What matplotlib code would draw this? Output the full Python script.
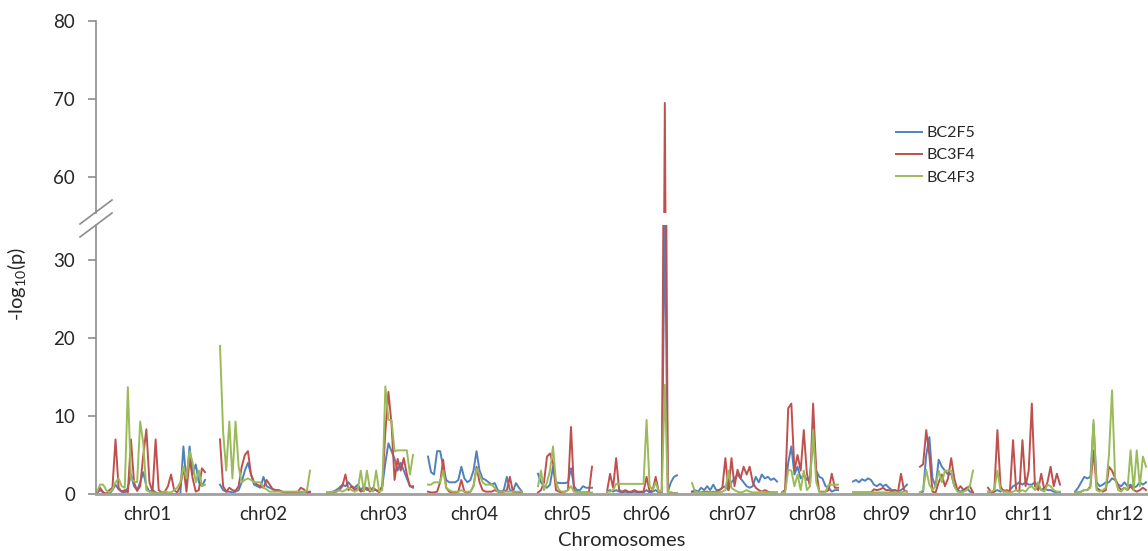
import numpy as np
import matplotlib
matplotlib.use("Agg")
import matplotlib.pyplot as plt
from matplotlib.lines import Line2D

# chromosomes
chrom_names = ["chr01", "chr02", "chr03", "chr04", "chr05", "chr06",
               "chr07", "chr08", "chr09", "chr10", "chr11", "chr12"]
chrom_start = [1, 124, 231, 332, 442, 511, 596, 686, 757, 824, 892, 979]
chrom_end = [109, 214, 317, 426, 496, 581, 681, 742, 811, 877, 964, 1050]
label_pos = [51, 167, 287, 378, 471, 550, 636, 716, 790, 856, 932, 1023]

# -log10(p) per chromosome
bc2f5 = [
    [0.3, 0.5, 0.2, 0, 0, 0.5, 1.2, 0.6, 0.3, 0.2, 0.8, 2.5, 1.0, 0.5, 1.5, 2.8, 1.0, 0.3,
     0.5, 0.2, 0, 0, 0.2, 0.1, 0, 0, 0, 0, 6.1, 1.5, 6.1, 2.5, 3.8, 1.5, 1.0, 1.8],
    [1.2, 0.5, 0.3, 0.3, 0.2, 0.3, 0.5, 1.5, 3.0, 4.0, 2.5, 1.2, 1.0, 0.8, 2.2, 1.0, 0.8, 0.6,
     0.5, 0.4, 0.3, 0.2, 0.2, 0.2, 0.2, 0.2, 0.2, 0.3, 0.3, 0.3],
    [0.2, 0.2, 0.3, 0.5, 0.8, 1.2, 1.0, 1.5, 1.0, 0.8, 1.2, 0.5, 1.0, 0.5, 0.8, 0.5, 0.5, 0.3,
     1.0, 4.0, 6.5, 5.5, 4.5, 3.0, 4.0, 3.0, 2.0, 1.0, 0.8],
    [4.8, 2.8, 2.5, 5.5, 5.5, 3.5, 1.8, 1.5, 1.5, 1.5, 1.8, 3.5, 2.0, 1.5, 1.8, 3.0, 5.5, 3.0,
     2.0, 1.8, 1.5, 1.2, 1.4, 0.5, 0.3, 0.5, 2.2, 0.5, 0.3, 1.4, 0.8, 0.3],
    [2.6, 1.5, 1.0, 0.8, 1.2, 3.5, 1.5, 1.4, 1.4, 1.4, 1.5, 3.3, 1.0, 0.5, 0.5, 1.0, 0.8, 0.8, 0.8],
    [0.3, 0.5, 0.3, 0.5, 0.3, 0.2, 0.3, 0.2, 0.2, 0.3, 0.2, 0.2, 0.2, 0.5, 0.2, 0.3, 0.5, 0.2,
     0.2, 36.0, 0.3, 1.5, 2.2, 2.4],
    [0.3, 0.5, 0.3, 0.8, 0.5, 1.0, 0.5, 1.2, 0.5, 0.5, 0.8, 1.0, 0.5, 1.5, 2.0, 2.5, 2.0, 1.5,
     1.0, 0.8, 1.0, 2.2, 1.5, 2.5, 2.0, 2.2, 1.8, 2.0, 1.6],
    [0.2, 0.5, 4.0, 6.1, 2.5, 3.5, 2.0, 2.5, 1.8, 2.0, 7.3, 3.0, 2.2, 2.0, 1.0, 0.8, 0.3, 0.5, 0.5],
    [1.6, 1.8, 1.5, 1.9, 1.7, 2.0, 1.8, 1.2, 1.0, 1.3, 1.0, 1.2, 0.8, 0.5, 0.5, 0.3, 0.5, 0.8, 1.2],
    [0.2, 0.3, 5.0, 7.3, 2.0, 1.0, 4.4, 3.5, 3.0, 2.5, 2.6, 1.0, 0.5, 0.3, 0.5, 0.8, 0.3, 0.2],
    [0.3, 0.2, 0.3, 0.5, 0.3, 0.5, 0.3, 0.5, 1.0, 1.2, 1.5, 1.2, 1.5, 1.2, 1.2, 1.5, 1.0, 0.5,
     0.8, 0.5, 0.5, 0.3, 0.2, 0.2],
    [0.3, 0.8, 1.5, 2.2, 2.0, 2.2, 9.0, 1.5, 1.0, 1.2, 1.5, 1.5, 2.0, 1.8, 1.2, 1.0, 1.5, 1.0,
     1.2, 0.8, 1.0, 1.5, 1.2, 1.5],
]
bc3f4 = [
    [0, 0.8, 0.2, 0, 0.5, 0.8, 7.0, 0.8, 0.3, 0.5, 0.2, 7.0, 1.5, 0.4, 1.0, 5.0, 8.3, 1.5,
     0.3, 7.0, 0.5, 0.2, 0.3, 1.0, 2.5, 0.5, 0.2, 1.0, 3.5, 0.3, 4.5, 2.0, 0.3, 0.5, 3.3, 2.8],
    [7.0, 1.0, 0.3, 0.8, 0.5, 0.4, 1.0, 3.5, 5.0, 5.5, 2.5, 1.5, 1.2, 1.0, 0.8, 1.8, 1.2, 0.6,
     0.5, 0.5, 0.3, 0.2, 0.2, 0.2, 0.2, 0.2, 0.8, 0.6, 0.2, 0.2],
    [0.1, 0.1, 0.2, 0.3, 0.5, 1.0, 2.5, 0.5, 1.0, 0.5, 0.8, 0.3, 0.5, 0.8, 0.3, 0.8, 0.5, 0.2,
     1.0, 8.0, 13.1, 9.0, 1.8, 4.5, 3.0, 4.6, 2.5, 1.0, 1.0],
    [0.3, 0.2, 0.2, 0.3, 1.5, 4.4, 0.8, 0.3, 0.2, 0.2, 0.3, 1.8, 0.3, 0.2, 0.3, 1.0, 3.5, 1.5,
     0.5, 0.3, 0.3, 0.3, 0.5, 0.3, 0.2, 0.3, 0.5, 2.2, 0.3, 0.2, 0.2, 0.2],
    [0.2, 0.5, 1.5, 4.8, 5.2, 4.0, 0.5, 0.3, 0.2, 0.3, 0.5, 8.6, 0.5, 0.2, 0.2, 0.2, 0.2, 0.3, 3.5],
    [0.3, 2.6, 0.8, 4.6, 0.5, 0.3, 0.5, 0.3, 0.3, 0.5, 0.3, 0.3, 0.3, 2.2, 0.3, 0.5, 2.2, 0.3,
     0.3, 69.5, 0.2, 0.2, 0.1, 0.1],
    [0.3, 0.3, 0.2, 0.2, 0.3, 0.3, 0.2, 0.3, 0.2, 0.5, 0.8, 4.6, 0.5, 4.6, 1.0, 3.1, 2.0, 3.5,
     2.5, 3.5, 1.5, 0.8, 0.5, 0.3, 0.5, 0.3, 0.2, 0.2, 0.2],
    [0.2, 0.5, 11.0, 11.6, 3.0, 5.0, 3.0, 8.2, 2.6, 1.0, 11.6, 3.0, 0.3, 0.3, 0.3, 0.5, 2.6, 0.8, 0.8],
    [0.2, 0.2, 0.2, 0.2, 0.2, 0.2, 0.2, 0.6, 0.5, 0.6, 0.8, 0.5, 0.5, 0.3, 0.5, 0.3, 2.6, 0.5, 0.3],
    [3.5, 3.8, 8.2, 5.0, 0.3, 0.2, 1.5, 2.5, 1.0, 2.0, 4.6, 2.0, 0.5, 1.0, 0.5, 0.8, 1.0, 0.2],
    [0.8, 0.2, 0.3, 8.2, 1.0, 0.3, 0.5, 0.3, 6.9, 0.5, 0.3, 6.9, 1.0, 3.0, 11.6, 1.0, 0.5, 2.6,
     0.5, 1.5, 3.5, 1.0, 2.6, 1.2],
    [0.2, 0.2, 0.3, 0.5, 0.5, 1.0, 5.6, 0.8, 0.5, 0.3, 0.5, 3.5, 3.0, 2.0, 1.0, 0.5, 0.8, 0.5,
     1.0, 0.5, 0.3, 0.5, 0.8, 0.5],
]
bc4f3 = [
    [0.3, 1.2, 1.2, 0.5, 0.2, 0.6, 1.5, 2.0, 1.0, 0.8, 13.7, 2.0, 1.6, 1.5, 9.3, 6.5, 0.5, 0.3,
     0.2, 0.1, 0.1, 0.2, 0.3, 0.2, 0.2, 0.5, 0.8, 1.5, 3.5, 2.0, 5.5, 4.0, 1.5, 3.0, 1.0, 1.2],
    [19.0, 8.0, 3.0, 9.3, 2.0, 9.3, 3.5, 1.5, 1.8, 2.0, 1.8, 1.5, 1.5, 1.5, 0.8, 0.6, 0.3, 0.3,
     0.3, 0.3, 0.3, 0.3, 0.3, 0.3, 0.3, 0.3, 0.3, 0.3, 0.4, 3.0],
    [0.2, 0.2, 0.3, 0.3, 0.5, 0.3, 0.5, 0.8, 0.5, 0.3, 0.5, 3.0, 0.3, 3.0, 0.5, 0.3, 3.0, 0.3,
     0.5, 13.8, 9.5, 9.5, 5.5, 5.6, 5.6, 5.6, 5.6, 2.5, 5.0],
    [1.2, 1.2, 1.5, 1.5, 1.5, 3.0, 0.8, 0.5, 0.3, 0.3, 0.3, 0.5, 0.3, 0.3, 0.3, 1.0, 3.2, 2.5,
     1.5, 1.2, 1.2, 1.2, 0.8, 0.3, 0.3, 0.3, 0.3, 0.3, 0.3, 0.3, 0.3, 0.3],
    [1.0, 3.0, 0.5, 1.5, 3.0, 6.1, 1.5, 0.5, 0.3, 0.3, 0.5, 1.0, 0.3, 0.2, 0.2, 0.2, 0.2, 0.2, 0.2],
    [0.3, 0.3, 0.5, 1.3, 1.3, 1.3, 1.3, 1.3, 1.3, 1.3, 1.3, 1.3, 1.3, 9.5, 1.0, 0.5, 1.5, 0.3,
     0.3, 14.0, 0.2, 0.1, 0.1, 0.1],
    [1.4, 0.3, 0.2, 0.2, 0.2, 0.2, 0.2, 0.2, 0.2, 0.2, 0.3, 0.5, 3.0, 0.8, 0.5, 0.3, 0.2, 0.3,
     0.5, 0.3, 0.2, 0.2, 0.2, 0.3, 0.2, 0.2, 0.2, 0.2, 0.2],
    [0.2, 0.2, 3.1, 3.0, 1.0, 2.5, 0.5, 3.0, 0.5, 1.0, 8.2, 1.5, 0.3, 0.2, 0.3, 1.2, 1.2, 1.2, 1.2],
    [0.2, 0.2, 0.2, 0.2, 0.2, 0.2, 0.2, 0.2, 0.2, 0.2, 0.2, 0.2, 0.2, 0.2, 0.2, 0.2, 0.2, 0.3, 0.3],
    [0.2, 0.5, 3.1, 1.2, 0.5, 1.0, 3.0, 1.5, 3.0, 3.0, 3.0, 1.0, 0.3, 0.2, 0.3, 0.5, 1.0, 3.0],
    [0.3, 0.3, 0.5, 3.0, 0.5, 0.3, 0.3, 0.2, 0.3, 0.5, 0.3, 0.5, 0.3, 0.8, 1.0, 0.5, 1.5, 0.5,
     0.3, 1.2, 1.0, 0.5, 0.3, 0.3],
    [0.2, 0.2, 0.3, 0.5, 0.5, 0.8, 9.5, 0.5, 0.3, 0.5, 0.8, 5.0, 13.3, 2.0, 0.5, 0.3, 0.8, 0.5,
     5.6, 0.5, 5.6, 1.0, 4.8, 3.5],
]

series_names = ["BC2F5", "BC3F4", "BC4F3"]
series_colors = ["#4F81BD", "#C0504D", "#9BBB59"]

lower_ticks = [0, 10, 20, 30]
upper_ticks = [60, 70, 80]

plt.rcParams["font.family"] = ["Lato", "DejaVu Sans"]
plt.rcParams["mathtext.fontset"] = "custom"
plt.rcParams["mathtext.rm"] = "Lato"
plt.rcParams["mathtext.it"] = "Lato:italic"
text_color = "#262626"
axis_color = "#8c8c8c"


def join_segments(series):
    # one line per series, NaN between chromosomes
    xs, ys = [], []
    for start, end, vals in zip(chrom_start, chrom_end, series):
        xs.extend(np.linspace(start, end, len(vals)))
        ys.extend(vals)
        xs.append(np.nan)
        ys.append(np.nan)
    return np.array(xs), np.array(ys)


W, H = 1148, 551
fig = plt.figure(figsize=(W / 100, H / 100), dpi=100)

left = 96 / W
ax_low = fig.add_axes([left, (H - 494) / H, 1 - left, (494 - 225) / H])
ax_up = fig.add_axes([left, (H - 213) / H, 1 - left, (213 - 21) / H])

for ax in (ax_low, ax_up):
    for name, color, series in zip(series_names, series_colors, [bc2f5, bc3f4, bc4f3]):
        x, y = join_segments(series)
        ax.plot(x, y, color=color, lw=1.4, label=name)
    ax.set_xlim(0, 1052)
    ax.spines["right"].set_visible(False)
    ax.spines["left"].set_color(axis_color)
    ax.spines["left"].set_linewidth(1.2)
    ax.tick_params(axis="y", direction="out", length=6, width=1.2, color=axis_color,
                   labelsize=13.5, labelcolor=text_color, pad=9)

ax_low.set_ylim(0, 34.5)
ax_low.set_yticks(lower_ticks)
ax_low.spines["top"].set_visible(False)
ax_low.spines["bottom"].set_color("#a0a0a0")
ax_low.spines["bottom"].set_linewidth(2)
ax_low.set_xticks(label_pos)
ax_low.set_xticklabels(chrom_names)
ax_low.tick_params(axis="x", length=0, labelsize=13.5, labelcolor=text_color, pad=9)
ax_low.set_xlabel("Chromosomes", fontsize=14.5, color=text_color, labelpad=6)

ax_up.set_ylim(55.4, 80)
ax_up.set_yticks(upper_ticks)
ax_up.spines["top"].set_visible(False)
ax_up.spines["bottom"].set_visible(False)
ax_up.set_xticks([])

# axis break marks
for y0 in (224, 237):
    fig.add_artist(Line2D([80 / W, 112 / W], [(H - y0) / H, (H - y0 + 24) / H],
                          transform=fig.transFigure, color=axis_color, lw=1.2))

fig.text(17 / W, (H - 284) / H, "-log$_{10}$(p)", rotation=90, ha="center", va="center",
         fontsize=14.5, color=text_color)

handles, labels = ax_up.get_legend_handles_labels()
fig.legend(handles, labels, loc="upper left", bbox_to_anchor=(896 / W, (H - 126) / H),
           frameon=False, fontsize=11.5, handlelength=1.6, handletextpad=0.3,
           labelspacing=0.5, borderaxespad=0, borderpad=0, labelcolor=text_color)

fig.savefig("out.png", dpi=100)
